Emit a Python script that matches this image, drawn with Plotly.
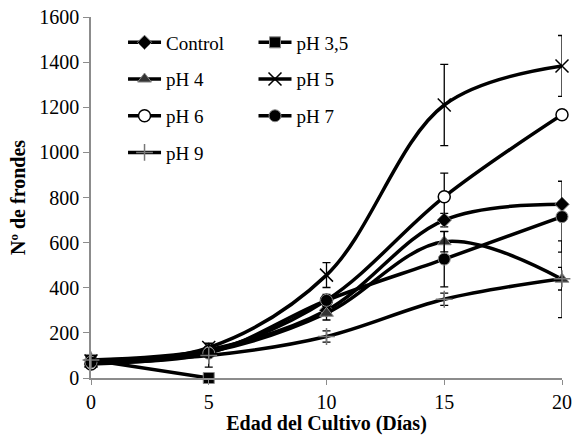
import plotly.graph_objects as go

days = [0, 5, 10, 15, 20]
series_names = ["Control", "pH 3,5", "pH 4", "pH 5", "pH 6", "pH 7", "pH 9"]
control = [80, 125, 300, 700, 770]
ph35 = [80, 0]
ph4 = [75, 115, 287, 604, 438]
ph5 = [75, 135, 456, 1210, 1383]
ph6 = [62, 117, 345, 803, 1167]
ph7 = [70, 110, 344, 527, 715]
ph9 = [80, 100, 184, 349, 440]

err_control = [10, 15, 15, 30, 15]
err_ph35 = [10, 5]
err_ph4 = [10, 15, 30, 45, 170]
err_ph5 = [10, 20, 55, 180, 135]
err_ph6 = [10, 20, 25, 105, 20]
err_ph7 = [10, 15, 20, 123, 157]
err_ph9 = [10, 52, 25, 27, 50]

values = [control, ph35, ph4, ph5, ph6, ph7, ph9]
errors = [err_control, err_ph35, err_ph4, err_ph5, err_ph6, err_ph7, err_ph9]

markers = [
    dict(symbol="diamond", size=11, color="black", line=dict(color="#777", width=1)),
    dict(symbol="square", size=11, color="black", line=dict(color="#888", width=1)),
    dict(symbol="triangle-up", size=12, color="#333", line=dict(color="#888", width=1)),
    dict(symbol="x-thin", size=13, color="black", line=dict(color="black", width=1.5)),
    dict(symbol="circle", size=12, color="white", line=dict(color="black", width=1.5)),
    dict(symbol="circle", size=12, color="black", line=dict(color="#888", width=1)),
    dict(symbol="cross-thin", size=12, color="#777", line=dict(color="#777", width=1.5)),
]
legend_ids = ["legend", "legend2", "legend", "legend2", "legend", "legend2", "legend"]

fig = go.Figure()
for name, vals, errs, mk, lg in zip(series_names, values, errors, markers, legend_ids):
    fig.add_trace(go.Scatter(
        x=days[:len(vals)], y=vals, name=name, mode="lines+markers",
        line=dict(color="black", width=3.5, shape="spline", smoothing=1),
        marker=mk,
        error_y=dict(type="data", array=errs, color="black", thickness=1.3, width=4),
        legend=lg, legendgroup=name, cliponaxis=False,
    ))

font_family = "Liberation Serif"
legend_common = dict(
    font=dict(family=font_family, size=19, color="black"),
    bgcolor="rgba(0,0,0,0)", tracegroupgap=9, itemwidth=33,
    yanchor="top", xanchor="left",
)
fig.update_layout(
    width=573, height=435,
    margin=dict(l=91, r=11, t=17, b=57, autoexpand=False),
    paper_bgcolor="white", plot_bgcolor="white",
    font=dict(family=font_family, size=20, color="black"),
    legend=dict(x=0.068, y=0.982, **legend_common),
    legend2=dict(x=0.345, y=0.982, **legend_common),
    xaxis=dict(
        range=[0, 20], tickvals=days, showgrid=False, zeroline=False,
        showline=True, linecolor="#8c8c8c", linewidth=1.5,
        ticks="outside", ticklen=5, tickcolor="#8c8c8c", automargin=False,
        tickfont=dict(family=font_family, size=20),
        title=dict(text="<b>Edad del Cultivo (Días)</b>", font=dict(family=font_family, size=20), standoff=4),
    ),
    yaxis=dict(
        range=[0, 1600], tickvals=[0, 200, 400, 600, 800, 1000, 1200, 1400, 1600],
        showgrid=False, zeroline=False,
        showline=True, linecolor="#8c8c8c", linewidth=1.5,
        ticks="outside", ticklen=6, tickcolor="#8c8c8c", automargin=False,
        tickfont=dict(family=font_family, size=20),
        title=dict(text="<b>Nº de frondes</b>", font=dict(family=font_family, size=20), standoff=8),
    ),
)
fig.write_html("out.html", config={"displayModeBar": False},
               post_script="document.body.style.margin='0';")
